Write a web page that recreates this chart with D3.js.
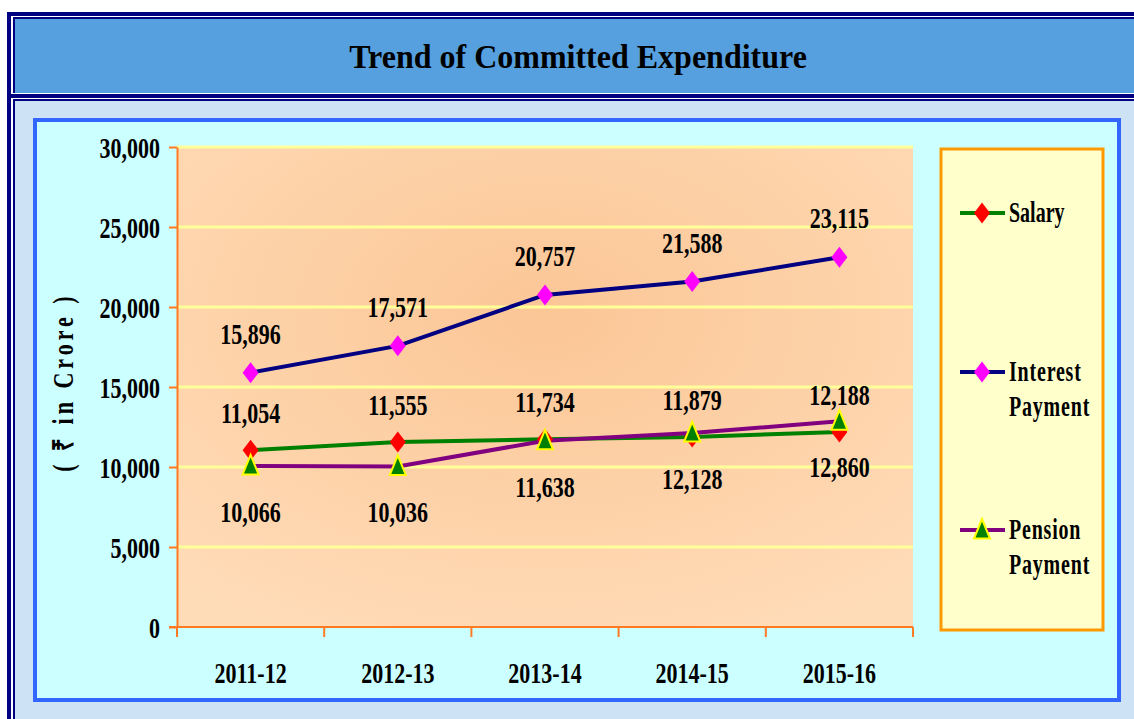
<!DOCTYPE html>
<html><head><meta charset="utf-8">
<script src="https://cdn.jsdelivr.net/npm/d3@7/dist/d3.min.js"></script>
<style>body{margin:0;background:#fff}svg{display:block}</style>
</head><body>
<svg id="c" width="1134" height="719"></svg>
<script>
const categories = ["2011-12","2012-13","2013-14","2014-15","2015-16"];
const salary   = [11054, 11555, 11734, 11879, 12188];
const interest = [15896, 17571, 20757, 21588, 23115];
const pension  = [10066, 10036, 11638, 12128, 12860];
const yTicks   = [0, 5000, 10000, 15000, 20000, 25000, 30000];
const seriesNames = [["Salary"],["Interest","Payment"],["Pension","Payment"]];
const titleText = "Trend of Committed Expenditure";
const yTitle = "( \u20B9 in Crore )";

const svg = d3.select("#c");
const serif = "'Liberation Serif','Times New Roman',serif";
const fmt = d3.format(",");

function label(parent, x, y, str, size, sy, anchor, extra){
  const t = parent.append("text")
    .attr("transform", `translate(${x},${y}) scale(1,${sy})`)
    .attr("text-anchor", anchor || "middle")
    .attr("font-family", serif).attr("font-weight","bold")
    .attr("font-size", size).attr("fill","#000").text(str);
  if (extra) extra(t);
  return t;
}

// outer frame
svg.append("rect").attr("x",7).attr("y",12).attr("width",1200).attr("height",800).attr("fill","#000080");
svg.append("rect").attr("x",11).attr("y",16).attr("width",1200).attr("height",78).attr("fill","#fff");
svg.append("rect").attr("x",13).attr("y",17).attr("width",1200).attr("height",76).attr("fill","#000080");
svg.append("rect").attr("x",15).attr("y",19).attr("width",1200).attr("height",74).attr("fill","#56A0DF");
svg.append("rect").attr("x",11).attr("y",98).attr("width",1200).attr("height",800).attr("fill","#fff");
svg.append("rect").attr("x",13).attr("y",99).attr("width",1200).attr("height",800).attr("fill","#000080");
svg.append("rect").attr("x",15).attr("y",101).attr("width",1200).attr("height",800).attr("fill","#CEE2F6");

label(svg, 578, 68, titleText, 32, 1.08, "middle");

// chart panel
svg.append("rect").attr("x",35).attr("y",120).attr("width",1084).attr("height",580)
  .attr("fill","#CCFFFF").attr("stroke","#3366FF").attr("stroke-width",4);

const defs = svg.append("defs");
const rg = defs.append("radialGradient").attr("id","pg").attr("cx","0.5").attr("cy","0.35").attr("r","0.75");
rg.append("stop").attr("offset","0%").attr("stop-color","#FBC696");
rg.append("stop").attr("offset","100%").attr("stop-color","#FFDCB8");

const L = 177, R = 913, T = 147, B = 627;
const x = d3.scaleBand().domain(categories).range([L, R]).padding(0);
const y = d3.scaleLinear().domain([0, 30000]).range([B, T]);
const cx = c => x(c) + x.bandwidth()/2;

svg.append("rect").attr("x",L).attr("y",T).attr("width",R-L).attr("height",B-T).attr("fill","url(#pg)");

// gridlines
svg.append("g").selectAll("line").data(yTicks.filter(v=>v>0)).join("line")
  .attr("x1",L).attr("x2",R).attr("y1",d=>y(d)).attr("y2",d=>y(d))
  .attr("stroke","#FFFF99").attr("stroke-width",3);

const axisColor = "#FF7A22";
// y axis
const ya = svg.append("g").attr("transform",`translate(${L},0)`)
  .call(d3.axisLeft(y).tickValues(yTicks).tickSize(8).tickSizeOuter(0).tickFormat(""));
ya.select(".domain").attr("stroke",axisColor).attr("stroke-width",2);
ya.selectAll(".tick line").attr("stroke",axisColor).attr("stroke-width",2);
ya.selectAll(".tick text").remove();
const yl = svg.append("g");
yTicks.forEach(v => label(yl, 160, y(v)+11, fmt(v), 22, 1.3, "end"));

// x axis
const xa = svg.append("g").attr("transform",`translate(0,${B})`)
  .call(d3.axisBottom(x).tickSize(0).tickFormat(""));
xa.select(".domain").remove();
const xl = svg.append("g");
categories.forEach(c => label(xl, cx(c), 683, c, 22, 1.35, "middle"));
const bounds = categories.map(c=>x(c)).concat([R]);
svg.append("g").selectAll("line").data(bounds).join("line")
  .attr("x1",d=>d).attr("x2",d=>d).attr("y1",B).attr("y2",B+10)
  .attr("stroke",axisColor).attr("stroke-width",2);
svg.append("line").attr("x1",L-8).attr("x2",R).attr("y1",B).attr("y2",B)
  .attr("stroke",axisColor).attr("stroke-width",2);

// y title
svg.append("text").attr("transform","translate(73,382) rotate(-90) scale(1,1.3)").attr("text-anchor","middle")
  .attr("font-family",serif).attr("font-weight","bold").attr("font-size",22)
  .attr("letter-spacing",4).attr("fill","#000").text(yTitle);

// markers
function diamond(g, fill){
  return g.append("path").attr("d","M0,-10.5L8,0L0,10.5L-8,0Z").attr("fill",fill);
}
function triangle(g){
  return g.append("path").attr("d","M0,-11L8,8.5L-8,8.5Z")
    .attr("fill","#008000").attr("stroke","#FFFF00").attr("stroke-width",2);
}

const series = [
  {vals: salary, line:"#008000", mk: g=>diamond(g,"#FF0000"), off:-37},
  {vals: interest, line:"#000080", mk: g=>diamond(g,"#FF00FF"), off:-39},
  {vals: pension, line:"#800080", mk: g=>triangle(g), off:46}
];
const line = d3.line().x((d,i)=>cx(categories[i])).y(d=>y(d));
series.forEach(s=>{
  svg.append("path").datum(s.vals).attr("d",line).attr("fill","none")
    .attr("stroke",s.line).attr("stroke-width",4);
});
series.forEach(s=>{
  s.vals.forEach((v,i)=>{
    const g = svg.append("g").attr("transform",`translate(${cx(categories[i])},${y(v)})`);
    s.mk(g);
  });
});
// data labels
series.forEach(s=>{
  const g = svg.append("g");
  s.vals.forEach((v,i)=> label(g, cx(categories[i]), y(v)+s.off+10, fmt(v), 22, 1.3, "middle"));
});

// legend
svg.append("rect").attr("x",941).attr("y",149).attr("width",162).attr("height",481)
  .attr("fill","#FFFFCC").attr("stroke","#FF9900").attr("stroke-width",3);
const legY = [213, 372, 530];
series.forEach((s,k)=>{
  const ly = legY[k];
  svg.append("line").attr("x1",960).attr("x2",1005).attr("y1",ly).attr("y2",ly)
    .attr("stroke",s.line).attr("stroke-width",4);
  const g = svg.append("g").attr("transform",`translate(982,${ly})`);
  s.mk(g);
  seriesNames[k].forEach((w,j)=>{
    label(svg, 1009, ly + 9 + j*35, w, 20, 1.5, "start", t=>t.attr("letter-spacing", k===0?0:0.8));
  });
});
</script>
</body></html>
